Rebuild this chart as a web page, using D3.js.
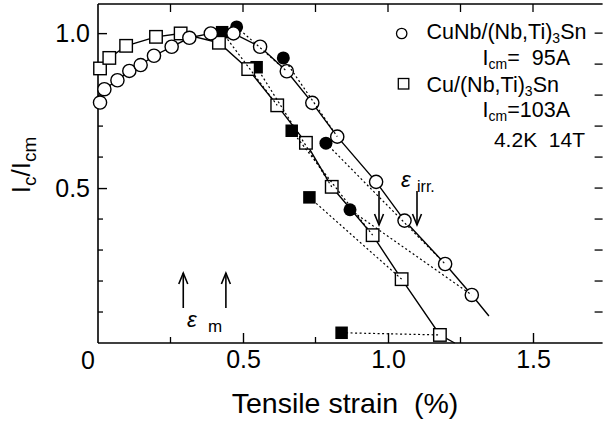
<!DOCTYPE html>
<html>
<head>
<meta charset="utf-8">
<script src="https://cdn.jsdelivr.net/npm/d3@7"></script>
<style>
  body { margin: 0; background: #fff; }
  svg { display: block; }
  text { font-family: "Liberation Sans", Arial, Helvetica, sans-serif; fill: #000; }
</style>
</head>
<body>
<svg id="chart" width="603" height="423"></svg>
<script>
// CuNb/(Nb,Ti)3Sn: loaded (open circles) and unloaded (filled circles)
const cuNbStrain = [0.007, 0.022, 0.067, 0.108, 0.147, 0.193, 0.254, 0.315, 0.389, 0.467, 0.559, 0.651, 0.739, 0.825, 0.959, 1.057, 1.197, 1.289];
const cuNbIc     = [0.776, 0.819, 0.848, 0.878, 0.897, 0.927, 0.956, 0.985, 0.999, 0.999, 0.956, 0.877, 0.775, 0.666, 0.520, 0.395, 0.255, 0.155];
const cuNbLineEnd = [1.348, 0.087];
const cuNbUnloadStrain = [0.478, 0.639, 0.786, 0.869];
const cuNbUnloadIc     = [1.020, 0.920, 0.645, 0.430];
const cuNbUnloadFrom   = [11, 13, 16, 17];   // index of the loaded point each unloaded point belongs to

// Cu/(Nb,Ti)3Sn: loaded (open squares) and unloaded (filled squares)
const cuStrain = [0.007, 0.039, 0.097, 0.200, 0.285, 0.417, 0.518, 0.618, 0.717, 0.806, 0.947, 1.047, 1.179];
const cuIc     = [0.886, 0.920, 0.959, 0.988, 0.999, 0.969, 0.884, 0.767, 0.646, 0.504, 0.348, 0.206, 0.026];
const cuLineEnd = [1.23, 0.0];
const cuUnloadStrain = [0.428, 0.547, 0.668, 0.729, 0.840];
const cuUnloadIc     = [1.003, 0.890, 0.685, 0.470, 0.033];
const cuUnloadFrom   = [7, 9, 10, 11, 12];

// characteristic strains marked with arrows
const epsMStrain   = [0.294, 0.441];
const epsIrrStrain = [0.969, 1.100];

// axis ticks
const xTickValues = [0.5, 1.0, 1.5];
const xTickLabels = ["0.5", "1.0", "1.5"];
const xMinorTicks = [0.25, 0.75, 1.25];
const xTopTicks   = [0.25, 0.5, 0.75, 1.0, 1.25, 1.5];
const yTickValues = [0.5, 1.0];
const yTickLabels = ["0.5", "1.0"];
const yMinorTicks = [0.1, 0.2, 0.3, 0.4, 0.6, 0.7, 0.8, 0.9];
const yRightTicks = [0.1, 0.2, 0.3, 0.4, 0.5, 0.6, 0.7, 0.8, 0.9, 1.0];

const svg = d3.select("#chart");
const x = d3.scaleLinear().domain([0, 1.74]).range([98, 602.6]);
const y = d3.scaleLinear().domain([0, 1.094]).range([343, 4]);
const X0 = x(0), X1 = x.range()[1], Y0 = y(0), Y1 = y.range()[1];

// frame
const frame = svg.append("g").attr("stroke", "#000").attr("stroke-width", 1.6).attr("fill", "none");
frame.append("line").attr("x1", X0).attr("x2", X0).attr("y1", Y1).attr("y2", Y0);
frame.append("line").attr("x1", X0).attr("x2", X1).attr("y1", Y0).attr("y2", Y0);
frame.append("line").attr("x1", X0).attr("x2", X1).attr("y1", Y1).attr("y2", Y1).attr("stroke-width", 1.3);

// bottom axis (ticks point inward)
const bottom = svg.append("g").attr("transform", `translate(0,${Y0})`)
  .call(d3.axisBottom(x).tickValues(xTickValues).tickFormat((d, i) => xTickLabels[i])
        .tickSizeInner(-10).tickSizeOuter(0).tickPadding(7));
bottom.select(".domain").remove();
bottom.selectAll("line").attr("stroke-width", 1.4);
bottom.selectAll("text").attr("font-size", 25).attr("font-family", "Liberation Sans, Arial, sans-serif");
svg.append("g").selectAll("line").data(xMinorTicks).join("line")
  .attr("x1", d => x(d)).attr("x2", d => x(d)).attr("y1", Y0).attr("y2", Y0 - 6)
  .attr("stroke", "#000").attr("stroke-width", 1.3);

// top ticks
svg.append("g").selectAll("line").data(xTopTicks).join("line")
  .attr("x1", d => x(d)).attr("x2", d => x(d)).attr("y1", Y1).attr("y2", Y1 + 8)
  .attr("stroke", "#000").attr("stroke-width", 1.3);

// left axis
const left = svg.append("g").attr("transform", `translate(${X0},0)`)
  .call(d3.axisLeft(y).tickValues(yTickValues).tickFormat((d, i) => yTickLabels[i])
        .tickSizeInner(-9).tickSizeOuter(0).tickPadding(8));
left.select(".domain").remove();
left.selectAll("line").attr("stroke-width", 1.4);
left.selectAll("text").attr("font-size", 25).attr("font-family", "Liberation Sans, Arial, sans-serif");
svg.append("g").selectAll("line").data(yMinorTicks).join("line")
  .attr("x1", X0).attr("x2", X0 + 5).attr("y1", d => y(d)).attr("y2", d => y(d))
  .attr("stroke", "#000").attr("stroke-width", 1.3);

// right-hand ticks
svg.append("g").selectAll("line").data(yRightTicks).join("line")
  .attr("x1", X1).attr("x2", X1 - 8).attr("y1", d => y(d)).attr("y2", d => y(d))
  .attr("stroke", "#000").attr("stroke-width", 1.3);

// shared origin label
svg.append("text").attr("x", 88).attr("y", 369).attr("text-anchor", "middle")
  .attr("font-size", 25).text("0");

// axis titles
svg.append("text").attr("x", 345).attr("y", 413).attr("text-anchor", "middle")
  .attr("font-size", 28.5).attr("xml:space", "preserve").text("Tensile strain  (%)");

const yTitle = svg.append("text").attr("transform", "translate(30,165) rotate(-90)")
  .attr("text-anchor", "middle").attr("font-size", 26);
yTitle.append("tspan").text("I");
yTitle.append("tspan").attr("font-size", 19).attr("dy", 6).text("c");
yTitle.append("tspan").attr("dy", -6).text("/I");
yTitle.append("tspan").attr("font-size", 19).attr("dy", 6).text("cm");

// data
const cuNbPts = d3.zip(cuNbStrain, cuNbIc);
const cuPts = d3.zip(cuStrain, cuIc);
const cuNbUnload = d3.zip(cuNbUnloadStrain, cuNbUnloadIc);
const cuUnload = d3.zip(cuUnloadStrain, cuUnloadIc);

const line = d3.line().x(d => x(d[0])).y(d => y(d[1]));

// loaded curves (solid)
svg.append("path").datum(cuNbPts.concat([cuNbLineEnd])).attr("d", line)
  .attr("fill", "none").attr("stroke", "#000").attr("stroke-width", 1.4);
svg.append("path").datum(cuPts.concat([cuLineEnd])).attr("d", line)
  .attr("fill", "none").attr("stroke", "#000").attr("stroke-width", 1.4);

// unloaded symbols (filled) under the open ones
const sq = 12.5;
svg.append("g").selectAll("circle").data(cuNbUnload).join("circle")
  .attr("cx", d => x(d[0])).attr("cy", d => y(d[1])).attr("r", 6.5).attr("fill", "#000");
svg.append("g").selectAll("rect").data(cuUnload).join("rect")
  .attr("x", d => x(d[0]) - sq / 2).attr("y", d => y(d[1]) - sq / 2)
  .attr("width", sq).attr("height", sq).attr("fill", "#000");

// loaded symbols (open)
svg.append("g").selectAll("rect").data(cuPts).join("rect")
  .attr("x", d => x(d[0]) - sq / 2).attr("y", d => y(d[1]) - sq / 2)
  .attr("width", sq).attr("height", sq).attr("fill", "#fff").attr("stroke", "#000").attr("stroke-width", 1.4);
svg.append("g").selectAll("circle").data(cuNbPts).join("circle")
  .attr("cx", d => x(d[0])).attr("cy", d => y(d[1])).attr("r", 6.6)
  .attr("fill", "#fff").attr("stroke", "#000").attr("stroke-width", 1.4);

// dotted links between each unloaded point and its loaded partner
const links = cuNbUnload.map((d, i) => [d, cuNbPts[cuNbUnloadFrom[i]]])
  .concat(cuUnload.map((d, i) => [d, cuPts[cuUnloadFrom[i]]]));
svg.append("g").selectAll("path").data(links).join("path").attr("d", line)
  .attr("fill", "none").attr("stroke", "#000").attr("stroke-width", 1.2).attr("stroke-dasharray", "2,2.5");

// arrows
const arrows = svg.append("g").attr("stroke", "#000").attr("stroke-width", 1.6).attr("fill", "none");
epsMStrain.forEach(s => {
  const ax = x(s), top = 273, bot = 308;
  arrows.append("line").attr("x1", ax).attr("x2", ax).attr("y1", top).attr("y2", bot);
  arrows.append("path").attr("d", `M${ax - 4.5},${top + 11}L${ax},${top}L${ax + 4.5},${top + 11}`);
});
epsIrrStrain.forEach(s => {
  const ax = x(s), top = 191, tip = 225;
  arrows.append("line").attr("x1", ax).attr("x2", ax).attr("y1", top).attr("y2", tip);
  arrows.append("path").attr("d", `M${ax - 4.5},${tip - 11}L${ax},${tip}L${ax + 4.5},${tip - 11}`);
});

// arrow labels
svg.append("text").attr("x", 187).attr("y", 327).attr("font-size", 22)
  .attr("font-family", "DejaVu Serif, serif").attr("font-style", "italic").text("ε");
svg.append("text").attr("x", 208).attr("y", 332).attr("font-size", 17).text("m");
svg.append("text").attr("x", 401).attr("y", 187).attr("font-size", 22)
  .attr("font-family", "DejaVu Serif, serif").attr("font-style", "italic").text("ε");
svg.append("text").attr("x", 417).attr("y", 192).attr("font-size", 16).text("irr.");

// legend
svg.append("circle").attr("cx", 401.7).attr("cy", 33.5).attr("r", 5.2)
  .attr("fill", "#fff").attr("stroke", "#000").attr("stroke-width", 1.3);
svg.append("rect").attr("x", 398.3).attr("y", 78.5).attr("width", 10.5).attr("height", 10.5)
  .attr("fill", "#fff").attr("stroke", "#000").attr("stroke-width", 1.3);

function sampleName(yPos, head) {
  const t = svg.append("text").attr("x", 426.5).attr("y", yPos).attr("font-size", 21.5);
  t.append("tspan").text(head);
  t.append("tspan").attr("font-size", 14).attr("dy", 4).text("3");
  t.append("tspan").attr("dy", -4).text("Sn");
}
sampleName(39, "CuNb/(Nb,Ti)");
sampleName(91.5, "Cu/(Nb,Ti)");

function icmLine(yPos, value) {
  const t = svg.append("text").attr("x", 570).attr("y", yPos).attr("font-size", 21.5)
    .attr("text-anchor", "end").attr("xml:space", "preserve");
  t.append("tspan").text("I");
  t.append("tspan").attr("font-size", 14).attr("dy", 3.5).text("cm");
  t.append("tspan").attr("dy", -3.5).text(value);
}
icmLine(65, "=  95A");
icmLine(117, "=103A");

svg.append("text").attr("x", 585).attr("y", 147).attr("font-size", 21)
  .attr("text-anchor", "end").attr("xml:space", "preserve").text("4.2K  14T");
</script>
</body>
</html>
